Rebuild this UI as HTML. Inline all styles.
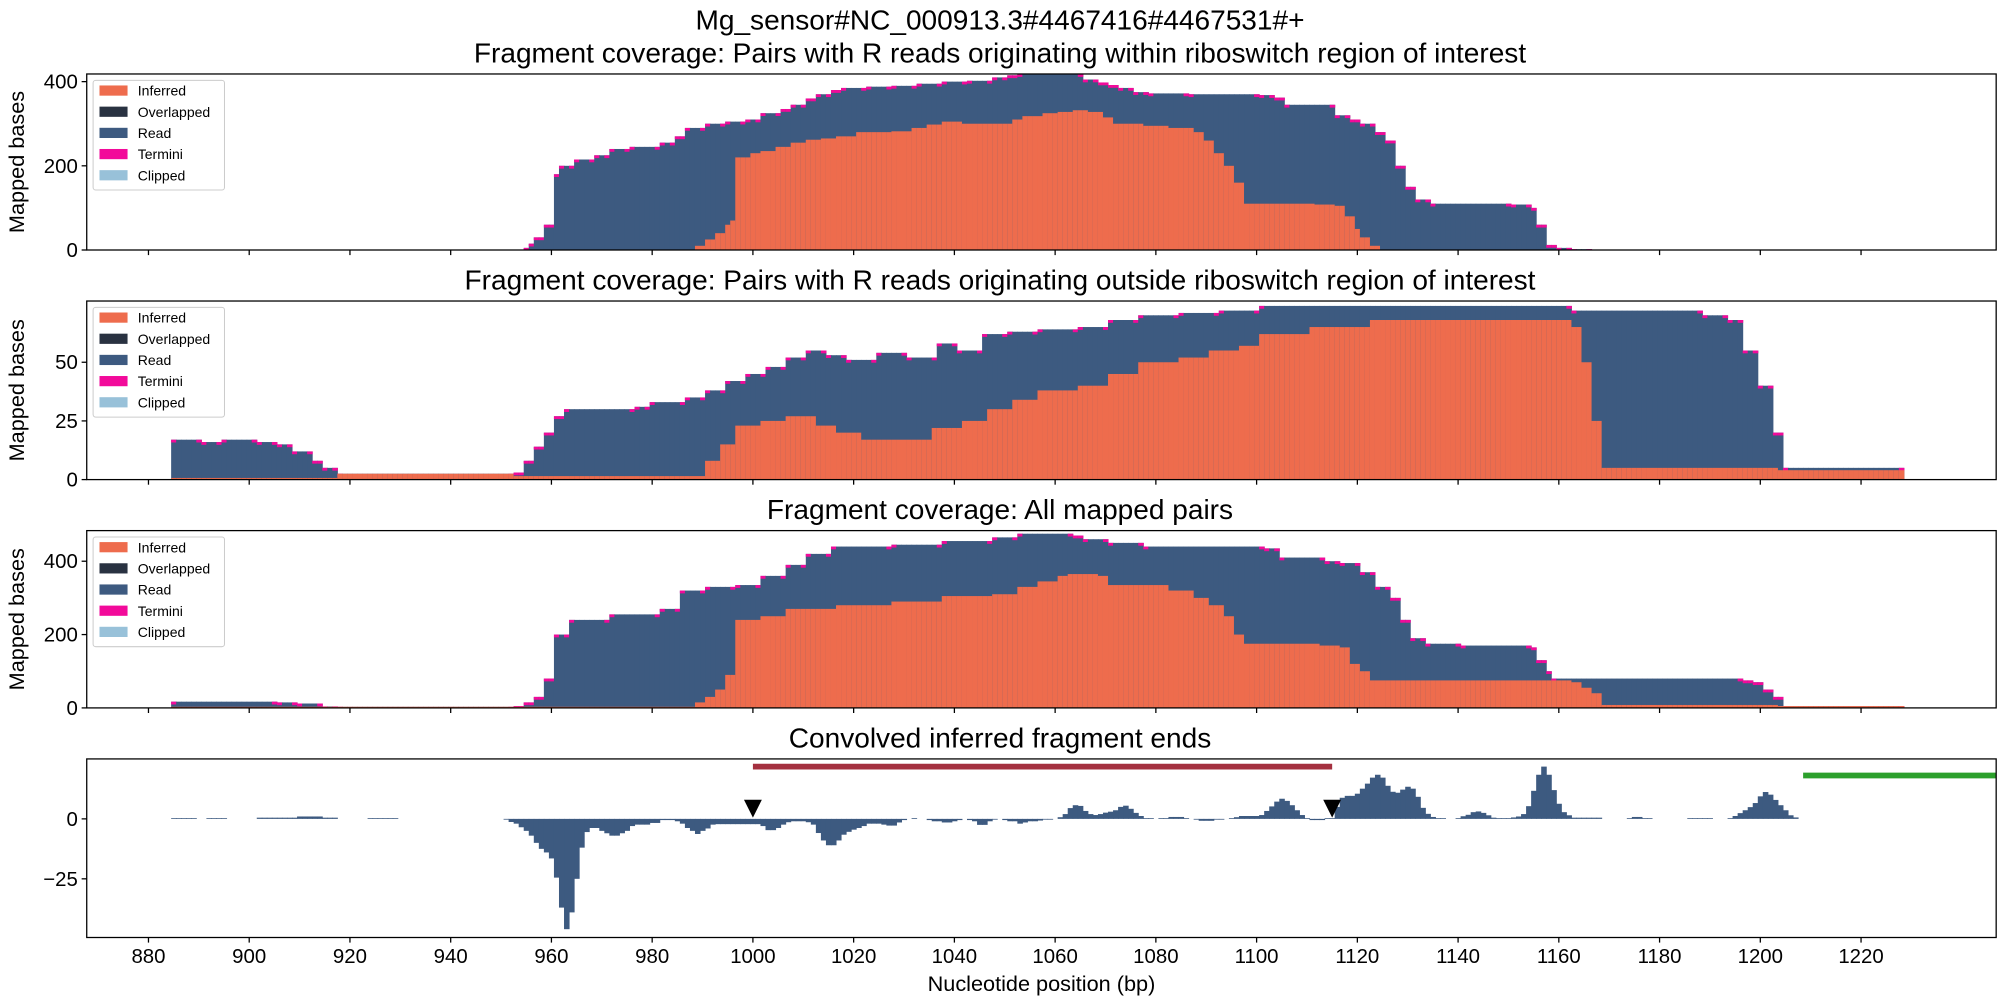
<!DOCTYPE html>
<html><head><meta charset="utf-8"><style>
html,body{margin:0;padding:0;background:#fff;}
svg{display:block;font-family:"Liberation Sans","DejaVu Sans",sans-serif;}
</style></head><body>
<svg id="chart" width="2000" height="1000" viewBox="0 0 1568 784" preserveAspectRatio="none" xmlns="http://www.w3.org/2000/svg">
<text x="784" y="23" font-size="22" text-anchor="middle">Mg_sensor#NC_000913.3#4467416#4467531#+</text>
<g id="layers"></g>
</svg>
<script>
const xTicks=[880,900,920,940,960,980,1000,1020,1040,1060,1080,1100,1120,1140,1160,1180,1200,1220];
const p1Total=[[955,5],[956,15],[957,30],[959,60],[961,180],[962,200],[965,215],[969,225],[972,240],[976,245],[982,255],[985,270],[987,290],[991,300],[995,305],[999,310],[1002,325],[1006,335],[1008,345],[1011,360],[1013,370],[1016,380],[1018,385],[1023,388],[1028,390],[1033,395],[1038,400],[1043,402],[1048,410],[1051,415],[1053,418],[1063,418],[1066,405],[1069,398],[1071,392],[1073,385],[1076,375],[1079,372],[1087,370],[1101,368],[1104,362],[1106,345],[1114,345],[1116,320],[1119,310],[1121,300],[1124,280],[1126,260],[1128,200],[1130,150],[1132,120],[1135,110],[1151,108],[1155,100],[1156,60],[1158,12],[1160,5],[1163,2],[1167,0]];
const p1Inferred=[[989,10],[991,25],[993,40],[995,60],[996,70],[997,220],[1000,230],[1002,235],[1005,245],[1008,255],[1011,262],[1014,265],[1017,270],[1021,280],[1028,282],[1032,290],[1035,298],[1038,305],[1042,300],[1049,300],[1052,310],[1054,318],[1058,325],[1061,328],[1064,332],[1067,328],[1070,315],[1072,300],[1078,295],[1083,290],[1088,280],[1090,260],[1092,230],[1094,200],[1096,160],[1098,110],[1112,108],[1116,105],[1118,80],[1120,50],[1121,30],[1123,10],[1125,0]];
const p2Total=[[885,17],[891,16],[895,17],[902,16],[906,15],[909,12],[913,8],[915,5],[918,2.5],[953,3],[955,8],[957,14],[959,20],[961,27],[963,30],[977,31],[980,33],[987,35],[991,38],[995,42],[999,45],[1003,48],[1007,52],[1011,55],[1015,53],[1019,51],[1025,54],[1031,52],[1037,58],[1041,55],[1046,62],[1051,63],[1057,64],[1065,65],[1071,68],[1077,70],[1085,71],[1093,72],[1101,74],[1159,74],[1163,72],[1189,70],[1194,68],[1197,55],[1200,40],[1203,20],[1205,5],[1229,0]];
const p2Inferred=[[885,0.7],[918,2.5],[953,1.5],[991,8],[994,15],[997,23],[1002,25],[1007,27],[1013,23],[1017,20],[1022,17],[1036,22],[1042,25],[1047,30],[1052,34],[1057,38],[1065,40],[1071,45],[1077,50],[1085,52],[1091,55],[1097,57],[1101,62],[1111,65],[1123,68],[1163,65],[1165,50],[1167,25],[1169,5],[1199,5],[1204,4],[1229,0]];
const p3Total=[[885,17],[906,15],[910,12],[915,4],[918,3],[953,5],[955,15],[957,30],[959,80],[961,200],[964,240],[972,255],[982,270],[986,320],[991,330],[997,335],[1002,360],[1007,390],[1011,420],[1016,440],[1028,445],[1038,455],[1048,465],[1053,475],[1064,470],[1066,460],[1071,450],[1078,440],[1102,435],[1105,410],[1114,400],[1117,395],[1121,370],[1124,330],[1127,300],[1129,240],[1131,190],[1134,175],[1141,170],[1155,165],[1156,130],[1158,100],[1159,80],[1197,75],[1199,70],[1201,50],[1203,30],[1205,5],[1229,0]];
const p3Inferred=[[885,3],[989,15],[991,30],[993,50],[995,90],[997,240],[1002,250],[1007,270],[1017,280],[1028,290],[1038,305],[1048,310],[1053,330],[1057,345],[1061,360],[1063,365],[1069,360],[1071,335],[1083,320],[1088,300],[1091,280],[1094,250],[1096,200],[1098,175],[1113,170],[1117,165],[1119,120],[1121,100],[1123,75],[1163,70],[1165,55],[1167,40],[1169,8],[1199,8],[1204,5],[1229,0]];
const p4Conv=[[885,0.3],[890,0],[892,0.3],[896,0],[902,0.5],[910,1],[915,0.5],[918,0],[924,0.3],[930,0],
[951,-0.3],[952,-1.3],[953,-2],[954,-3.5],[955,-5],[956,-7],[957,-10],[958,-12.5],[959,-14],[960,-16.5],[961,-24.5],[962,-37],[963,-46],[964,-39],[965,-25],[966,-12],[967,-5.5],[968,-3.8],[970,-5],[971,-6],[972,-7],[974,-6],[975,-5],[976,-3],[977,-2.4],[980,-1.7],[982,-0.5],[985,-1],[986,-2],[987,-3.8],[988,-5],[989,-6.3],[990,-5],[991,-4],[992,-2.4],[993,-2.2],[1002,-3],[1003,-4.7],[1005,-3.8],[1006,-2.4],[1007,-1.4],[1008,-1],[1011,-1.4],[1012,-2.4],[1013,-5.9],[1014,-9],[1015,-11],[1017,-9],[1018,-6.6],[1019,-5.4],[1020,-4.5],[1021,-3.8],[1022,-3],[1023,-2],[1026,-2.4],[1027,-2.8],[1029,-1.5],[1030,-0.5],[1031,0],[1032,0.3],[1033,0],[1035,-0.5],[1036,-1],[1038,-1.5],[1040,-1],[1041,-0.5],[1042,0],[1043,-0.5],[1044,-1],[1045,-2.5],[1047,-1],[1048,-0.3],[1049,0],[1050,-0.5],[1051,-1],[1053,-2],[1054,-1.5],[1055,-1],[1057,-0.7],[1058,-0.3],[1060,0],[1061,0.7],[1062,2],[1063,4.5],[1064,5.7],[1065,5.4],[1066,3.3],[1067,2],[1068,1.6],[1069,2],[1070,2.6],[1071,3],[1072,3.6],[1073,5],[1074,5.5],[1075,4.2],[1076,2.5],[1077,1.2],[1078,0.3],[1080,0],[1081,0.3],[1083,0.8],[1086,0.3],[1087,0],[1088,-0.3],[1089,-0.8],[1092,-0.3],[1094,0],[1095,0.3],[1096,0.7],[1097,1.2],[1101,1.6],[1102,3.3],[1103,5.2],[1104,7.2],[1105,8.4],[1106,7.5],[1107,5.7],[1108,3.6],[1109,1.6],[1110,0.3],[1111,-0.5],[1114,0.3],[1116,5],[1117,8.8],[1118,9.6],[1120,10.5],[1121,12.6],[1122,14.7],[1123,17.2],[1124,18.4],[1125,17.2],[1126,13.8],[1127,11.3],[1128,10.9],[1129,12.2],[1130,13.4],[1131,12.6],[1132,9.2],[1133,4.6],[1134,2.1],[1135,0.8],[1136,0.3],[1138,0],[1140,0.3],[1141,1.1],[1142,1.7],[1143,2.8],[1144,3.1],[1145,2.5],[1146,1.5],[1147,0.5],[1148,0.3],[1151,0.6],[1152,1],[1153,2],[1154,5.3],[1155,11.7],[1156,18.4],[1157,21.8],[1158,18.4],[1159,12],[1160,6.3],[1161,2.8],[1162,1.5],[1163,0.5],[1169,0],[1174,0.3],[1175,0.8],[1177,0.3],[1179,0],[1186,0.3],[1191,0],[1194,0.3],[1195,1.2],[1196,2.4],[1197,3.6],[1198,4.9],[1199,6.6],[1200,9.4],[1201,11.2],[1202,10.1],[1203,7.9],[1204,5.7],[1205,3.6],[1206,1.5],[1207,0.6],[1208,0]];
const p1Ticks=[0,200,400], p2Ticks=[0,25,50], p3Ticks=[0,200,400], p4Ticks=[-25,0];
const markers=[1000,1115];
const regionBar=[1000,1115];
const greenBar=[1208.5,1250];

const NS="http://www.w3.org/2000/svg";
const root=document.getElementById('layers');
const X0=68,X1=1565;
const sx=v=>116.4+(v-880)*3.949;
const BW=3.949;
const fmt=v=>v<0?'\u2212'+Math.abs(v):String(v);
function el(tag,attrs,parent){const e=document.createElementNS(NS,tag);for(const k in attrs)e.setAttribute(k,attrs[k]);(parent||root).appendChild(e);return e;}
function expand(seg){const m={};for(let i=0;i<seg.length-1;i++){for(let b=seg[i][0];b<seg[i+1][0];b++)m[b]=seg[i][1];}return m;}
const C={inf:'#ee6c4d',ovl:'#293241',read:'#3d5a80',term:'#f20a9a',clip:'#98c1d9'};

function panel(cfg){
  const g=el('g',{});
  
  
  const sy=v=>cfg.y0+(v-cfg.vmin)*(cfg.y1-cfg.y0)/(cfg.vmax-cfg.vmin);
  const t=el('text',{x:784,y:cfg.top-9,'font-size':22,'text-anchor':'middle'},g);t.textContent=cfg.title;
  
  if(cfg.total){
    const tot=expand(cfg.total),inf=expand(cfg.inferred);
    for(const k in tot){const b=+k,v=tot[b];if(v<=0)continue;
      const x=sx(b-0.5),w=BW+0.4;
      const changed=(tot[b-1]||0)!==v||(tot[b+1]||0)!==v;
      const cap=changed?Math.min(2.2,(sy(0)-sy(v))):0;
      const r=el('rect',{x:x,y:sy(v),width:w,height:sy(0)-sy(v),fill:C.read},g);
      
      if(cap>0){const c=el('rect',{x:x,y:sy(v),width:w,height:cap,fill:C.term},g);
        }
      const iv=inf[b]||0;
      if(iv>0){const ir=el('rect',{x:x,y:sy(iv),width:w,height:sy(0)-sy(iv),fill:C.inf},g);
        }
    }
    const lg=el('g',{},g);
    const lx=73,ly=cfg.top+5;
    el('rect',{x:lx,y:ly,width:103,height:86,fill:'#fff',stroke:'#ccc','stroke-width':0.8,rx:2},lg);
    [['Inferred',C.inf],['Overlapped',C.ovl],['Read',C.read],['Termini',C.term],['Clipped',C.clip]].forEach((e,i)=>{
      const s=el('rect',{x:lx+5,y:ly+4+i*16.6,width:22,height:8,fill:e[1]},lg);
      
      const tt=el('text',{x:lx+35,y:ly+12+i*16.6,'font-size':11},lg);tt.textContent=e[0];
      
    });
  }
  if(cfg.conv){
    const cv=expand(cfg.conv);
    for(const k in cv){const b=+k,v=cv[b];if(v===0)continue;
      const y=Math.min(sy(v),sy(0)),h=Math.max(Math.abs(sy(v)-sy(0)),0.6);
      const r=el('rect',{x:sx(b-0.5),y:y,width:BW+0.4,height:h,fill:C.read},g);
      }
    const rb=el('line',{x1:sx(regionBar[0]),x2:sx(regionBar[1]),y1:cfg.top+6,y2:cfg.top+6,stroke:'#a4303f','stroke-width':4.5},g);
    
    const gb=el('line',{x1:sx(greenBar[0]),x2:X1,y1:cfg.top+13,y2:cfg.top+13,stroke:'#2ca02c','stroke-width':4.5},g);
    
    markers.forEach(m=>{const px=sx(m),py=sy(0)-1;
      const p=el('path',{d:`M${px-7},${py-14}L${px+7},${py-14}L${px},${py}Z`,fill:'#000'},g);
      });
  }
  el('rect',{x:X0,y:cfg.top,width:X1-X0,height:cfg.bot-cfg.top,fill:'none',stroke:'#000','stroke-width':1},g);
  cfg.yt.forEach(v=>{const y=sy(v);el('line',{x1:X0-4,x2:X0,y1:y,y2:y,stroke:'#000'},g);
    const tt=el('text',{x:X0-7,y:y+5.5,'font-size':16,'text-anchor':'end'},g);tt.textContent=fmt(v);
    });
  xTicks.forEach(v=>{const x=sx(v);el('line',{x1:x,x2:x,y1:cfg.bot,y2:cfg.bot+4,stroke:'#000'},g);
    if(cfg.xlabels){const tt=el('text',{x:x,y:cfg.bot+20,'font-size':16,'text-anchor':'middle'},g);tt.textContent=v;
      }});
  if(cfg.ylabel){const yl=el('text',{x:0,y:0,'font-size':17,'text-anchor':'middle',transform:`translate(19,${(cfg.top+cfg.bot)/2}) rotate(-90)`},g);
    yl.textContent='Mapped bases';}
}
panel({name:'panel-within-region',title:'Fragment coverage: Pairs with R reads originating within riboswitch region of interest',top:58,bot:196,y0:196,y1:64,vmin:0,vmax:400,total:p1Total,inferred:p1Inferred,yt:p1Ticks,ylabel:true});
panel({name:'panel-outside-region',title:'Fragment coverage: Pairs with R reads originating outside riboswitch region of interest',top:236,bot:376,y0:376,y1:284,vmin:0,vmax:50,total:p2Total,inferred:p2Inferred,yt:p2Ticks,ylabel:true});
panel({name:'panel-all-pairs',title:'Fragment coverage: All mapped pairs',top:416,bot:555,y0:555,y1:440,vmin:0,vmax:400,total:p3Total,inferred:p3Inferred,yt:p3Ticks,ylabel:true});
panel({name:'panel-convolved-ends',title:'Convolved inferred fragment ends',top:595,bot:735,y0:642,y1:689,vmin:0,vmax:-25,conv:p4Conv,yt:p4Ticks,xlabels:true});
const xl=el('text',{x:(X0+X1)/2,y:777,'font-size':17,'text-anchor':'middle'});
xl.textContent='Nucleotide position (bp)';


</script>
</body></html>
